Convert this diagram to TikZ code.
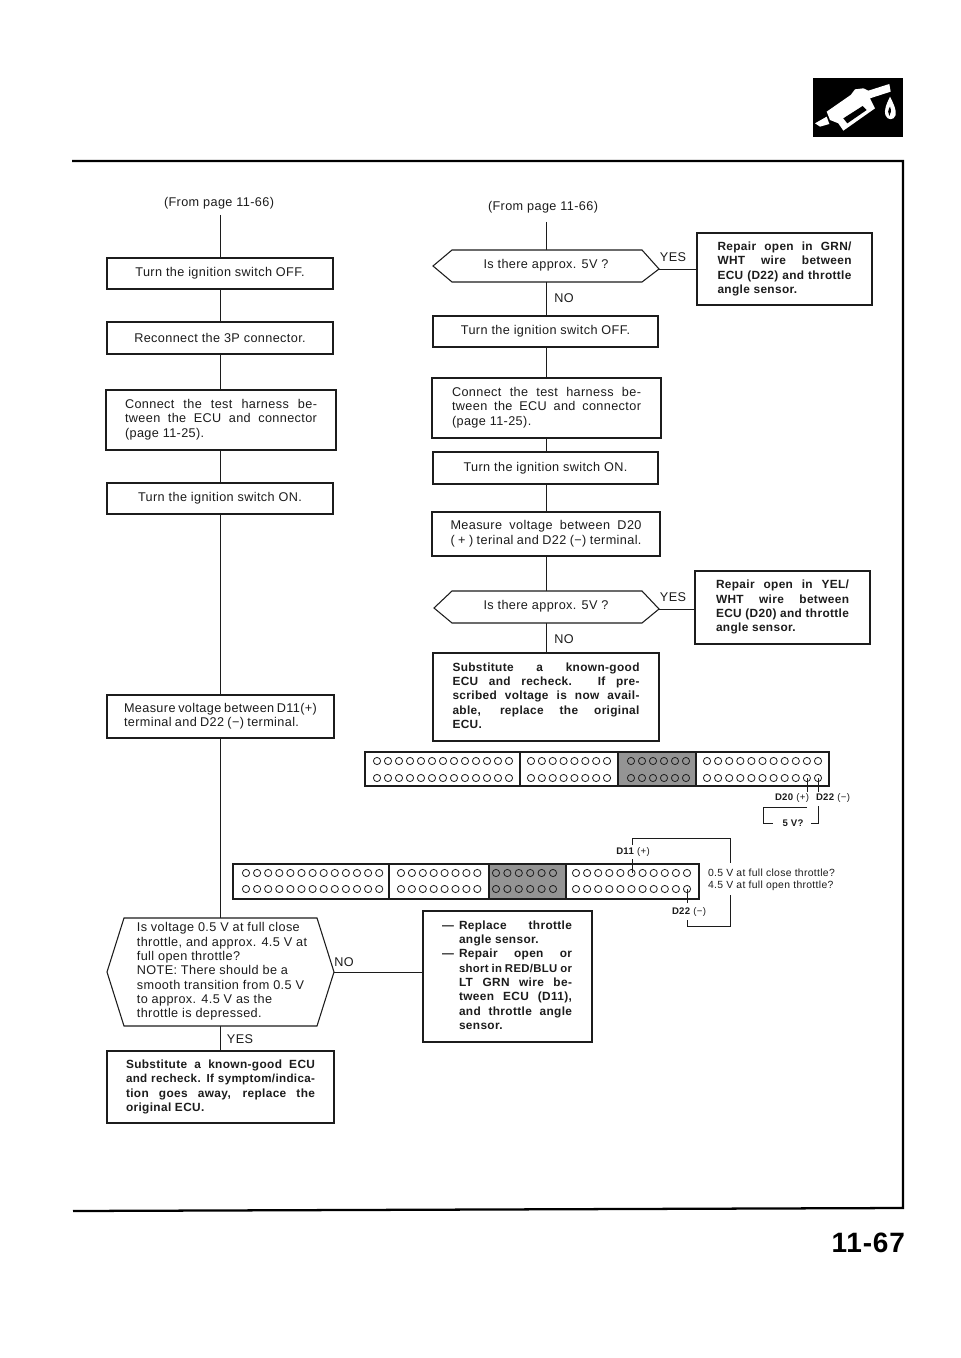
\documentclass[tikz,border=0pt]{standalone}
\usepackage{fontspec}
\usetikzlibrary{calc}
\setmainfont{Liberation Sans}[LetterSpace=3]
\newdimen\px \px=0.75pt
\newcommand\jl[2]{\makebox[#1\px][s]{#2}}
\newcommand\tb[2]{\kern#1\px\kern#1\px\begin{tabular}{@{}l@{}}#2\end{tabular}}
\newcommand\bx[7][boxn]{\node[#1,minimum width={(#5-#3)*0.75pt},minimum height={(#6-#4)*0.75pt}] (#2) at ({(#3+#5)/2},{(#4+#6)/2}) {#7};}
\definecolor{ink}{HTML}{1C1C1C}
\tikzset{
  base/.style={inner sep=0pt,outer sep=0pt,text=ink,font=\fontsize{9.5}{10.75}\selectfont},
  boxn/.style={base,draw=ink,line width=0.8pt,fill=white},
  boxb/.style={boxn,font=\fontsize{8.9}{10.75}\selectfont\bfseries},
  hexn/.style={base},
  lab/.style={base},
  tiny/.style={base,font=\fontsize{7.2}{8}\selectfont},
  small/.style={base,font=\fontsize{7.8}{9}\selectfont},
  link/.style={draw=ink,line width=0.7pt},
  hexline/.style={draw=ink,line width=0.8pt,fill=white,line join=miter},
  conn/.style={draw=ink,line width=1.3pt,fill=white},
  hole/.style={draw=ink,line width=0.6pt},
  frameline/.style={draw=black,line width=1.7pt}
}
\begin{document}
\begin{tikzpicture}[x=0.75pt,y=-0.75pt]
\useasboundingbox (0,0) rectangle (960,1358);
\fill[white] (0,0) rectangle (960,1358);

% page frame
\draw[frameline] (72,161) -- (903,161) -- (903,1208) -- (73,1211);
\node[base,text=black,font=\fontsize{21}{24}\selectfont\bfseries,anchor=east] (pageno) at (905,1243) {11-67};

% icon
\fill[black] (813,78) rectangle (903,137);
\begin{scope}[shift={(800,60)},x=0.25pt,y=-0.25pt]
\fill[white] (45,190) -- (80,170) -- (88,192) -- (60,200) -- cycle;
\fill[white] (80,155) -- (152,105) -- (165,88) -- (190,85) -- (205,92) -- (268,72) -- (272,95) -- (210,115) -- (225,145) -- (130,212) -- (115,190) -- (90,180) -- cycle;
\fill[black] (130,175) -- (188,138) -- (200,150) -- (142,190) -- cycle;
\fill[white] (270,110) .. controls (258,135) and (252,150) .. (256,165) .. controls (262,182) and (282,182) .. (287,165) .. controls (290,150) and (280,130) .. (270,110) -- cycle;
\fill[black] (270,140) .. controls (264,150) and (262,160) .. (268,168) .. controls (274,160) and (274,150) .. (270,140) -- cycle;
\end{scope}

% left column
\node[lab] (fromL) at (219,203) {(From page 11-66)};
\coordinate (fromLend) at (220,215);
\bx{b1}{107}{258}{333}{289}{Turn the ignition switch OFF.}
\bx{b2}{107}{322}{333}{354}{Reconnect the 3P connector.}
\bx{b3}{106}{390}{336}{450}{\tb{0}{\jl{192}{Connect the test harness be-}\\\jl{192}{tween the ECU and connector}\\(page 11-25).}}
\bx{b4}{107}{483}{333}{514}{Turn the ignition switch ON.}
\bx{b5}{107}{695}{334}{738}{\tb{0}{\jl{193}{Measure voltage between D11(+)}\\\jl{175}{terminal and D22 (−) terminal.}}}
\bx[hexn]{h3}{107}{918}{334}{1026}{}
\bx[boxb]{b6}{107}{1051}{334}{1123}{\tb{0}{\jl{189}{Substitute a known-good ECU}\\\jl{189}{\fontsize{8.7}{10.75}\selectfont and recheck. If symptom/indica-}\\\jl{189}{tion goes away, replace the}\\original ECU.}}
\bx[boxb]{b7}{423}{911}{592}{1042}{\tb{8}{\llap{—\kern5\px}\jl{113}{Replace throttle}\\angle sensor.\\\llap{—\kern5\px}\jl{113}{Repair open or}\\\jl{113}{\fontsize{8.5}{10.75}\selectfont short in RED/BLU or}\\\jl{113}{LT GRN wire be-}\\\jl{113}{tween ECU (D11),}\\\jl{113}{and throttle angle}\\sensor.}}

% right column
\node[lab] (fromR) at (543,207) {(From page 11-66)};
\coordinate (fromRend) at (546,222);
\bx[hexn]{h1}{433}{250}{659}{282}{}
\bx[boxb]{r1}{697}{233}{872}{305}{\tb{0}{\jl{134}{Repair open in GRN/}\\\jl{134}{WHT wire between}\\\jl{134}{ECU (D22) and throttle}\\angle sensor.}}
\bx{c1}{433}{316}{658}{347}{Turn the ignition switch OFF.}
\bx{c2}{432}{378}{661}{438}{\tb{0}{\jl{189}{Connect the test harness be-}\\\jl{189}{tween the ECU and connector}\\(page 11-25).}}
\bx{c3}{433}{452}{658}{484}{Turn the ignition switch ON.}
\bx{c4}{432}{512}{660}{556}{\tb{0}{\jl{191}{Measure voltage between D20}\\\jl{191}{( + ) terinal and D22 (−) terminal.}}}
\bx[hexn]{h2}{434}{591}{659}{623}{}
\bx[boxb]{r2}{695}{571}{870}{644}{\tb{0}{\jl{133}{Repair open in YEL/}\\\jl{133}{WHT wire between}\\\jl{133}{ECU (D20) and throttle}\\angle sensor.}}
\bx[boxb]{c5}{433}{653}{659}{741}{\tb{0}{\jl{187}{Substitute a known-good}\\\jl{187}{ECU and recheck. If pre-}\\\jl{187}{scribed voltage is now avail-}\\\jl{187}{able, replace the original}\\ECU.}}

% connectors, left
\draw[link] (fromLend) -- (fromLend |- b1.north);
\draw[link] (b1.south) -- (b1.south |- b2.north);
\draw[link] (b2.south) -- (b2.south |- b3.north);
\draw[link] (b1.south |- b3.south) -- (b1.south |- b4.north);
\draw[link] (b4.south) -- (b4.south |- b5.north);
\draw[link] (b4.south |- b5.south) -- (b4.south |- h3.north);
\draw[link] (b4.south |- h3.south) -- (b4.south |- b6.north);
\draw[link] (h3.east) -- (h3.east -| b7.west);

% connectors, right
\draw[link] (fromRend) -- (fromRend |- h1.north);
\draw[link] (fromRend |- h1.south) -- (fromRend |- c1.north);
\draw[link] (fromRend |- c1.south) -- (fromRend |- c2.north);
\draw[link] (fromRend |- c2.south) -- (fromRend |- c3.north);
\draw[link] (fromRend |- c3.south) -- (fromRend |- c4.north);
\draw[link] (fromRend |- c4.south) -- (fromRend |- h2.north);
\draw[link] (fromRend |- h2.south) -- (fromRend |- c5.north);

% hexagons
\coordinate (e1) at (659,269);
\coordinate (w1) at (433,266);
\coordinate (e2) at (659,609);
\coordinate (w2) at (434,608);
\draw[hexline] (w1) -- (452,250) -- (642,250) -- (e1) -- (642,282) -- (452,282) -- cycle;
\draw[hexline] (w2) -- (452,591) -- (642,591) -- (e2) -- (642,623) -- (452,623) -- cycle;
\draw[hexline] (h3.west) -- (124,918) -- (317,918) -- (h3.east) -- (317,1026) -- (124,1026) -- cycle;
\draw[link] (e1) -- (e1 -| r1.west);
\draw[link] (e2) -- (e2 -| r2.west);
\node[lab] (q1) at (546,265) {Is there approx. 5V ?};
\node[lab] (q2) at (546,606) {Is there approx. 5V ?};
\node[base] (q3) at (222,972) {\begin{tabular}{@{}l@{}}Is voltage 0.5 V at full close\\throttle, and approx. 4.5 V at\\full open throttle?\\NOTE: There should be a\\smooth transition from 0.5 V\\to approx. 4.5 V as the\\throttle is depressed.\end{tabular}};

% yes / no
\node[lab] (y1) at (673,257) {YES};
\node[lab] (n1) at (564,298) {NO};
\node[lab] (y2) at (673,597) {YES};
\node[lab] (n2) at (564,639) {NO};
\node[lab] (n3) at (344,962) {NO};
\node[lab] (y3) at (240,1039) {YES};

% upper connector
\draw[conn] (365,752) rectangle (829,786);
\fill[black!42] (618,752) rectangle (696,786);
\draw[conn,fill=none] (365,752) rectangle (829,786);
\draw[conn] (520,752) -- (520,786);
\draw[conn] (618,752) -- (618,786);
\draw[conn] (696,752) -- (696,786);
\foreach \y in {761,778}{
  \foreach \i in {0,...,12} \draw[hole] ({377+11*\i},\y) circle (3.6);
  \foreach \i in {0,...,7} \draw[hole] ({531+10.86*\i},\y) circle (3.6);
  \foreach \i in {0,...,5} \draw[hole] ({631+11*\i},\y) circle (3.6);
  \foreach \i in {0,...,10} \draw[hole] ({707+11.1*\i},\y) circle (3.6);
}
\coordinate (d20) at (807,778);
\coordinate (d22) at (818,778);
\coordinate (d20b) at (807,792);
\coordinate (d22b) at (818,792);
\draw[link] (d20) -- (d20b);
\draw[link] (d22) -- (d22b);
\node[tiny] (l20) at (792,798) {\textbf{D20} (+)};
\node[tiny] (l22) at (833,798) {\textbf{D22} (−)};
\node[tiny,font=\fontsize{7.2}{8}\selectfont\bfseries] (l5v) at (793,823) {5 V?};
\coordinate (br1) at (807,807);
\coordinate (br2) at (773,823);
\coordinate (br3) at (818,806);
\coordinate (br4) at (811,823);
\draw[link] (br1) -- (763,807) -- (763,823) -- (br2);
\draw[link] (br3) -- (818,823) -- (br4);

% lower connector
\draw[conn] (233,864) rectangle (699,899);
\fill[black!42] (489,864) rectangle (566,899);
\draw[conn,fill=none] (233,864) rectangle (699,899);
\draw[conn] (389,864) -- (389,899);
\draw[conn] (489,864) -- (489,899);
\draw[conn] (566,864) -- (566,899);
\foreach \y in {873,889}{
  \foreach \i in {0,...,12} \draw[hole] ({246+11.1*\i},\y) circle (3.6);
  \foreach \i in {0,...,7} \draw[hole] ({401+10.9*\i},\y) circle (3.6);
  \foreach \i in {0,...,5} \draw[hole] ({496+11.4*\i},\y) circle (3.6);
  \foreach \i in {0,...,10} \draw[hole] ({576+11.1*\i},\y) circle (3.6);
}
\coordinate (d11) at (632,873);
\coordinate (d11b) at (632,859);
\coordinate (d11t) at (632,845);
\coordinate (d22c) at (687,889);
\coordinate (d22d) at (687,903);
\coordinate (d22e) at (687,920);
\coordinate (vt) at (730,863);
\coordinate (vb) at (730,895);
\draw[link] (d11) -- (d11b);
\draw[link] (d22c) -- (d22d);
\draw[link] (d11t) -- (632,838) -- (730,838) -- (vt);
\draw[link] (vb) -- (730,926) -- (687,926) -- (d22e);
\node[tiny] (l11) at (633,852) {\textbf{D11} (+)};
\node[tiny] (l22b) at (689,912) {\textbf{D22} (−)};
\node[small,anchor=west] (t05) at (708,873) {0.5 V at full close throttle?};
\node[small,anchor=west] (t45) at (708,886) {4.5 V at full open throttle?};
\end{tikzpicture}
\end{document}
